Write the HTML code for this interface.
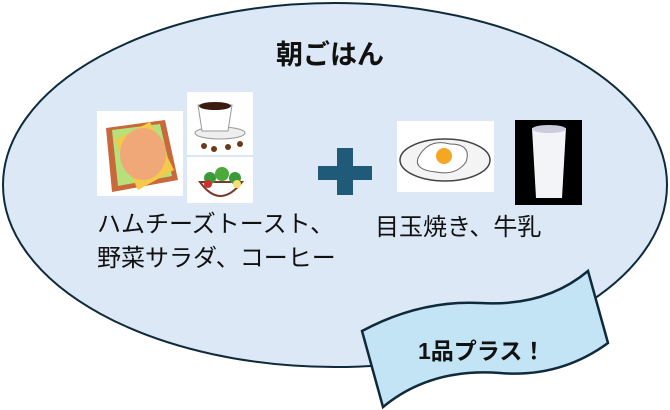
<!DOCTYPE html>
<html><head><meta charset="utf-8"><style>
body{margin:0;width:670px;height:410px;background:#fff;overflow:hidden;position:relative;font-family:"Liberation Sans","Noto Sans CJK JP",sans-serif}
.a{position:absolute;white-space:nowrap}
</style></head><body>
<svg class="a" style="left:0;top:0" width="670" height="410">
<ellipse cx="335" cy="185" rx="332" ry="182" fill="#dce8f5" stroke="#0f2a3a" stroke-width="2"/>
<rect x="97" y="111" width="86" height="85" fill="#fff"/>
<path d="M106 128 L165 120 L178 180 L112 192 Z" fill="#c9683a"/>
<path d="M112 130 L160 124 L172 176 L118 186 Z" fill="#b6e07a"/>
<path d="M115 140 L150 122 L174 170 L138 190 Z" fill="#f5c94a"/>
<ellipse cx="143" cy="154" rx="23" ry="26" fill="#f0a878"/>
<rect x="187" y="92" width="66" height="63" fill="#fff"/>
<ellipse cx="220" cy="133" rx="25" ry="6" fill="#eee" stroke="#999"/>
<path d="M198 105 h34 l-4 26 h-26 z" fill="#fff" stroke="#999"/>
<ellipse cx="215" cy="106" rx="16" ry="4" fill="#3a1d0e"/>
<circle cx="204" cy="146" r="3" fill="#6b3a1a"/><circle cx="214" cy="149" r="3" fill="#6b3a1a"/><circle cx="228" cy="147" r="3" fill="#6b3a1a"/><circle cx="240" cy="144" r="3" fill="#6b3a1a"/>
<rect x="187" y="157" width="66" height="46" fill="#fff"/>
<path d="M200 182 Q220 210 242 182 Z" fill="#fff" stroke="#7a3a2a" stroke-width="2"/>
<circle cx="210" cy="178" r="6" fill="#3a9a3a"/><circle cx="222" cy="174" r="7" fill="#4aaa3a"/><circle cx="235" cy="178" r="6" fill="#3a9a3a"/>
<circle cx="208" cy="184" r="4" fill="#d03030"/><circle cx="237" cy="184" r="4" fill="#f5e070"/>
<path d="M337 148 h16 v18 h19 v14 h-19 v15 h-16 v-15 h-19 v-14 h19 z" fill="#1f5a78"/>
<rect x="397" y="121" width="97" height="71" fill="#fff"/>
<ellipse cx="445" cy="160" rx="45" ry="21" fill="#f4f4f4" stroke="#444" stroke-width="1.5"/>
<path d="M418 158 q10 -20 32 -14 q22 0 16 18 q-10 14 -30 10 q-22 -2 -18 -14z" fill="#fff" stroke="#666"/>
<circle cx="444" cy="156" r="8" fill="#f5a623"/>
<rect x="515" y="120" width="67" height="85" fill="#000"/>
<path d="M532 128 h34 l-4 70 h-26 z" fill="#f2f4f8"/>
<ellipse cx="549" cy="129" rx="17" ry="4" fill="#ccd"/>
<path d="M362 331 Q420 300 480 303 Q545 307 588 271 L608 343 Q560 378 500 373 Q430 368 383 407 Z" fill="#c3e4f4" stroke="#0f2a3a" stroke-width="2.5"/>
</svg>
<div class="a" style="left:0;width:660px;top:33px;text-align:center;font-size:27px;font-weight:bold;color:#111">朝ごはん</div>
<div class="a" style="left:97px;top:208px;font-size:24px;line-height:34px;color:#111">ハムチーズトースト、<br>野菜サラダ、コーヒー</div>
<div class="a" style="left:375px;top:213px;font-size:24px;line-height:30px;color:#111">目玉焼き、牛乳</div>
<div class="a" style="left:418px;top:332px;font-size:23px;font-weight:bold;color:#111">1品プラス！</div>
</body></html>
